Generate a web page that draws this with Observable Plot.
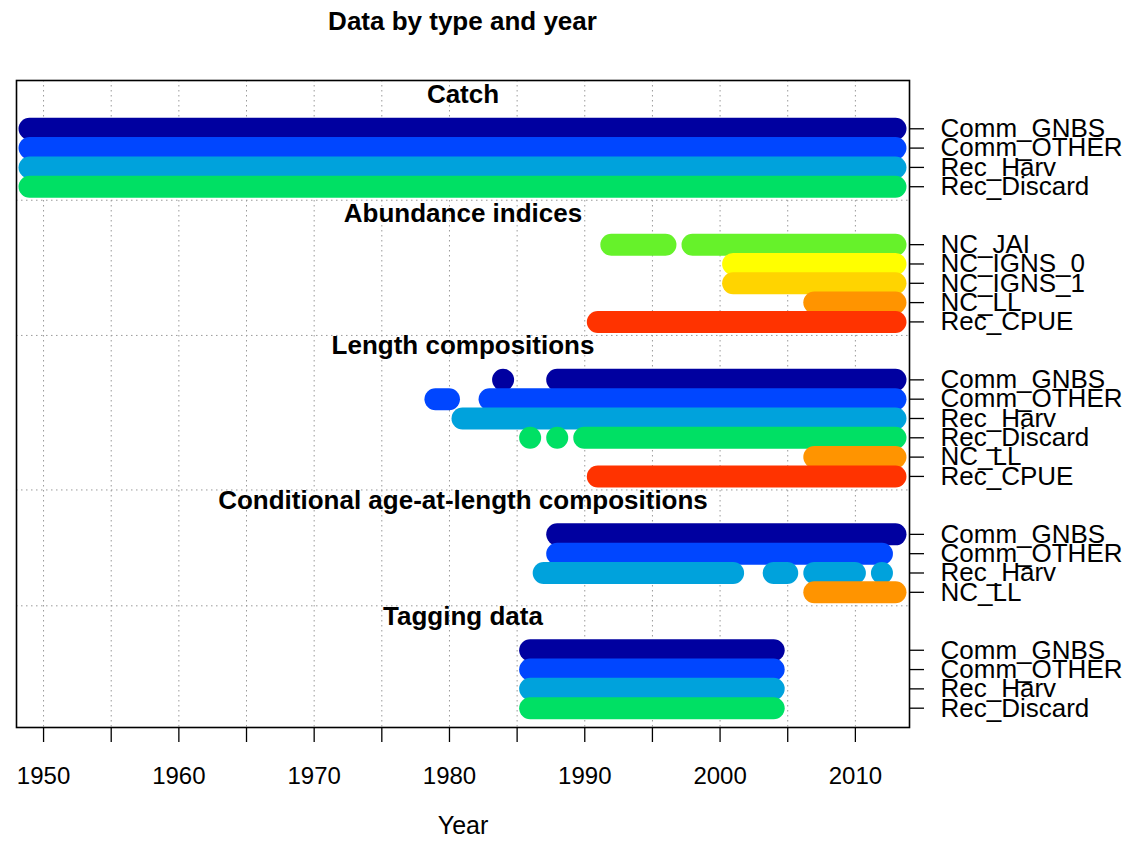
<!DOCTYPE html>
<html><head><meta charset="utf-8">
<script src="https://cdn.jsdelivr.net/npm/d3@7"></script>
<script src="https://cdn.jsdelivr.net/npm/@observablehq/plot@0.6"></script>
<style>
body{margin:0;background:#fff;font-family:"Liberation Sans",Arial,Helvetica,sans-serif;}
#title{width:925px;height:45px;line-height:42px;text-align:center;font-weight:bold;font-size:26px;color:#000;}
</style></head><body>
<div id="title">Data by type and year</div>
<div id="chart"></div>
<script>
// ---- data ----
const chartTitle = "Data by type and year";
const xLabel = "Year";
const groupTitles = ["Catch", "Abundance indices", "Length compositions", "Conditional age-at-length compositions", "Tagging data"];

const fleetNames  = ["Comm_GNBS", "Comm_OTHER", "Rec_Harv", "Rec_Discard", "NC_JAI", "NC_IGNS_0", "NC_IGNS_1", "NC_LL", "Rec_CPUE"];
const fleetColors = ["#0000A0", "#0046FF", "#00A2DC", "#00E064", "#66F22A", "#FFFF00", "#FFD400", "#FF9400", "#FF3300"];

const catchFleets = ["Comm_GNBS", "Comm_OTHER", "Rec_Harv", "Rec_Discard"];
const catchYears  = [[[1949, 2013]], [[1949, 2013]], [[1949, 2013]], [[1949, 2013]]];

const indexFleets = ["NC_JAI", "NC_IGNS_0", "NC_IGNS_1", "NC_LL", "Rec_CPUE"];
const indexYears  = [[[1992, 1996], [1998, 2013]], [[2001, 2013]], [[2001, 2013]], [[2007, 2013]], [[1991, 2013]]];

const lengthFleets = ["Comm_GNBS", "Comm_OTHER", "Rec_Harv", "Rec_Discard", "NC_LL", "Rec_CPUE"];
const lengthYears  = [[[1984, 1984], [1988, 2013]], [[1979, 1980], [1983, 2013]], [[1981, 2013]],
                      [[1986, 1986], [1988, 1988], [1990, 2013]], [[2007, 2013]], [[1991, 2013]]];

const caalFleets = ["Comm_GNBS", "Comm_OTHER", "Rec_Harv", "NC_LL"];
const caalYears  = [[[1988, 2013]], [[1988, 2012]], [[1987, 2001], [2004, 2005], [2007, 2010], [2012, 2012]], [[2007, 2013]]];

const tagFleets = ["Comm_GNBS", "Comm_OTHER", "Rec_Harv", "Rec_Discard"];
const tagYears  = [[[1986, 2004]], [[1986, 2004]], [[1986, 2004]], [[1986, 2004]]];

const xDomain = [1948, 2014];
const gridYears = [1950, 1955, 1960, 1965, 1970, 1975, 1980, 1985, 1990, 1995, 2000, 2005, 2010];

// ---- build tables ----
const groups = [
  {title: groupTitles[0], fleets: catchFleets, years: catchYears},
  {title: groupTitles[1], fleets: indexFleets, years: indexYears},
  {title: groupTitles[2], fleets: lengthFleets, years: lengthYears},
  {title: groupTitles[3], fleets: caalFleets, years: caalYears},
  {title: groupTitles[4], fleets: tagFleets, years: tagYears}
];
const segs = [], headers = [], seps = [], tickRows = [], rowLabel = new Map();
let row = 0;
groups.forEach((g, gi) => {
  if (gi > 0) { row += 2; seps.push(row - 2.3); }
  headers.push({row: row - (gi === 1 ? 1.6 : 1.75), title: g.title});
  g.fleets.forEach((f, fi) => {
    tickRows.push(row);
    rowLabel.set(row, f);
    g.years[fi].forEach(([a, b]) => segs.push({row, fleet: f, start: a, end: b}));
    row += 1;
  });
});
const lastRow = row - 1;

const chart = Plot.plot({
  width: 1126, height: 803,
  marginTop: 35, marginBottom: 121, marginLeft: 16, marginRight: 217,
  x: {domain: xDomain},
  y: {domain: [-2.5, lastRow + 1], reverse: true},
  color: {domain: fleetNames, range: fleetColors},
  style: {fontFamily: '"Liberation Sans", Arial, Helvetica, sans-serif', fontSize: "25px", color: "black", background: "white", overflow: "visible"},
  marks: [
    Plot.ruleX(gridYears, {stroke: "#9a9a9a", strokeDasharray: "1.5,3.5", strokeWidth: 1}),
    Plot.ruleY(seps, {stroke: "#9a9a9a", strokeDasharray: "1.5,3.5", strokeWidth: 1}),
    Plot.ruleY(segs, {y: "row", x1: "start", x2: "end", stroke: "fleet", strokeWidth: 22, strokeLinecap: "round"}),
    Plot.text(headers, {y: "row", text: "title", frameAnchor: "middle", fontWeight: "bold", fontSize: 26}),
    Plot.frame({stroke: "black", strokeWidth: 1.6}),
    Plot.axisX({ticks: gridYears, tickFormat: d => d % 10 === 0 ? String(d) : "", tickSize: 15, tickPadding: 24, label: null, fontSize: 24, strokeWidth: 1.3}),
    Plot.axisY({anchor: "right", ticks: tickRows, tickFormat: d => rowLabel.get(d), tickSize: 14, tickPadding: 17, label: null, fontSize: 26, strokeWidth: 1.3}),
    Plot.text([xLabel], {frameAnchor: "bottom", dy: 106, fontSize: 25})
  ]
});
document.getElementById("title").textContent = chartTitle;
document.getElementById("chart").appendChild(chart);
</script></body></html>
